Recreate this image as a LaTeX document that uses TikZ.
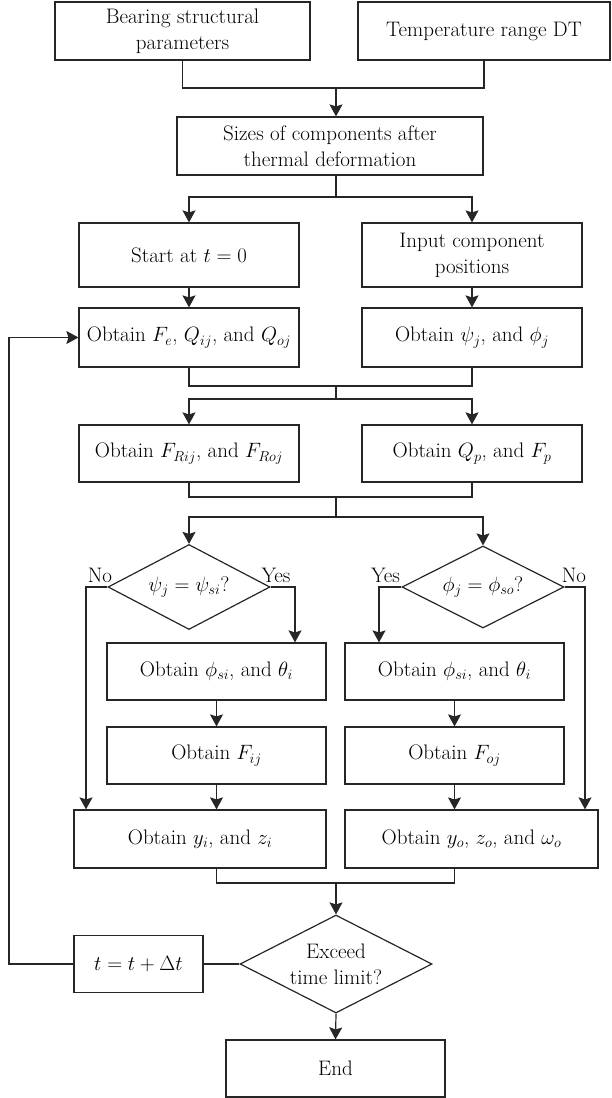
\documentclass[tikz,border=0pt]{standalone}
\usetikzlibrary{shapes.geometric,arrows.meta}
\tikzset{
  txt/.style={font=\fontsize{21}{26}\selectfont, text=black},
  ln/.style={draw=black!85, line width=1.2pt},
  arr/.style={ln, -{Stealth[length=12pt,width=13pt,inset=2pt]}},
  box/.style={txt, draw=black!85, line width=1.2pt, rectangle, inner sep=0pt, align=center},
  dia/.style={txt, draw=black!85, line width=1.2pt, diamond, shape aspect=2, inner sep=0pt, align=center},
  lbl/.style={txt, inner sep=0pt}
}
\begin{document}
\begin{tikzpicture}[x=1pt,y=-1pt]
\useasboundingbox (0,0) rectangle (611,1098);
% boxes
\node[box, minimum width=255, minimum height=58] (box1) at (182.5,31) {Bearing structural\\parameters};
\node[box, minimum width=252, minimum height=58] (box2) at (484,31) {Temperature range DT};
\node[box, minimum width=306, minimum height=58] (sizes) at (330,146) {Sizes of components after\\thermal deformation};
\node[box, minimum width=220, minimum height=64] (start) at (189,255) {Start at $t = 0$};
\node[box, minimum width=220, minimum height=64] (input) at (472,255) {Input component\\positions};
\node[box, minimum width=220, minimum height=59] (obtFe) at (189,337.5) {Obtain $F_e$, $Q_{ij}$, and $Q_{oj}$};
\node[box, minimum width=220, minimum height=59] (obtPsi) at (472,337.5) {Obtain $\psi_j$, and $\phi_j$};
\node[box, minimum width=220, minimum height=57] (frij) at (189,453.5) {Obtain $F_{Rij}$, and $F_{Roj}$};
\node[box, minimum width=220, minimum height=57] (qp) at (472,453.5) {Obtain $Q_p$, and $F_p$};
\node[dia, minimum width=162, minimum height=85] (dL) at (189,587) {$\psi_j = \psi_{si}$?};
\node[dia, minimum width=162, minimum height=82] (dR) at (483,587) {$\phi_j = \phi_{so}$?};
\node[box, minimum width=219, minimum height=57] (phiL) at (216.5,671.5) {Obtain $\phi_{si}$, and $\theta_i$};
\node[box, minimum width=219, minimum height=57] (phiR) at (454.5,671.5) {Obtain $\phi_{si}$, and $\theta_i$};
\node[box, minimum width=219, minimum height=57] (fij) at (216.5,755.5) {Obtain $F_{ij}$};
\node[box, minimum width=219, minimum height=57] (foj) at (454.5,755.5) {Obtain $F_{oj}$};
\node[box, minimum width=252, minimum height=58] (yi) at (200,839) {Obtain $y_i$, and $z_i$};
\node[box, minimum width=253, minimum height=58] (yo) at (471.5,839) {Obtain $y_o$, $z_o$, and $\omega_o$};
\node[dia, minimum width=192, minimum height=98] (exceed) at (336,964) {Exceed\\time limit?};
\node[box, minimum width=129, minimum height=57] (tbox) at (138.5,964) {$t = t + \Delta t$};
\node[box, minimum width=219, minimum height=57] (endb) at (335.5,1068.5) {End};
% labels
\node[lbl] (noL) at (100,575) {No};
\node[lbl] (yesL) at (276,575) {Yes};
\node[lbl] (yesR) at (385.5,575) {Yes};
\node[lbl] (noR) at (574,575) {No};
% junctions
\coordinate (m1) at (336,88);
\coordinate (s1) at (336,197);
\coordinate (m2) at (336,386);
\coordinate (s2) at (336,399);
\coordinate (m3) at (336,497);
\coordinate (s3) at (336,517);
\coordinate (nL) at (86,587);
\coordinate (yL) at (295,587);
\coordinate (yR) at (379,587);
\coordinate (nR) at (585,587);
\coordinate (m4) at (336,883);
\coordinate (fb) at (9,964);
% connectors
\draw[ln] (box1.south) |- (m1) -| (box2.south);
\draw[arr] (m1) -- (sizes.north -| m1);
\draw[ln] (sizes.south -| m1) -- (s1);
\draw[arr] (s1) -| (start.north);
\draw[arr] (s1) -| (input.north);
\draw[arr] (start.south) -- (obtFe.north);
\draw[arr] (input.south) -- (obtPsi.north);
\draw[ln] (obtFe.south) |- (m2) -| (obtPsi.south);
\draw[ln] (m2) -- (s2);
\draw[arr] (s2) -| (frij.north);
\draw[arr] (s2) -| (qp.north);
\draw[ln] (frij.south) |- (m3) -| (qp.south);
\draw[ln] (m3) -- (s3);
\draw[arr] (s3) -| (dL.north);
\draw[arr] (s3) -| (dR.north);
\draw[arr] (dL.west) -- (nL) -- (nL |- yi.north);
\draw[arr] (dL.east) -- (yL) -- (yL |- phiL.north);
\draw[arr] (dR.west) -- (yR) -- (yR |- phiR.north);
\draw[arr] (dR.east) -- (nR) -- (nR |- yo.north);
\draw[arr] (phiL.south) -- (fij.north);
\draw[arr] (phiR.south) -- (foj.north);
\draw[arr] (fij.south) -- (fij.south |- yi.north);
\draw[arr] (foj.south) -- (foj.south |- yo.north);
\draw[ln] (fij.south |- yi.south) |- (m4) -| (foj.south |- yo.south);
\draw[arr] (m4) -- (exceed.north);
\draw[ln] (exceed.west) -- (tbox.east);
\draw[arr] (tbox.west) -- (fb) |- (obtFe.west);
\draw[arr] (exceed.south) -- (endb.north);
\end{tikzpicture}
\end{document}
